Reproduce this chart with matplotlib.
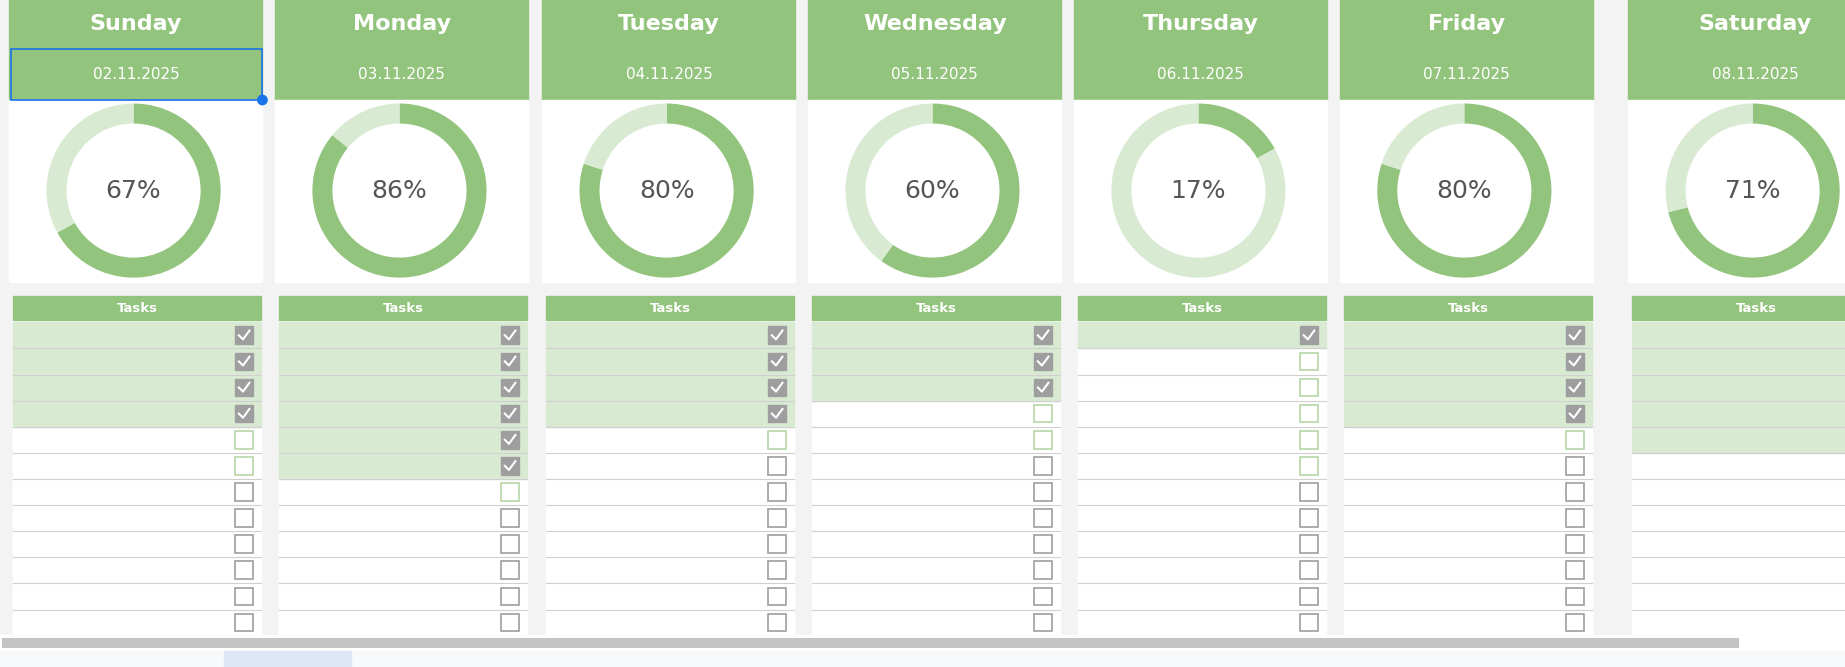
import matplotlib
matplotlib.use("Agg")
import matplotlib.pyplot as plt
from matplotlib.patches import Rectangle, Circle
from matplotlib.transforms import Bbox, TransformedBbox

days = ["Sunday", "Monday", "Tuesday", "Wednesday", "Thursday", "Friday", "Saturday"]
dates = ["02.11.2025", "03.11.2025", "04.11.2025", "05.11.2025", "06.11.2025", "07.11.2025", "08.11.2025"]
col_x = [8, 234, 461, 687, 913, 1139, 1384]
tasks = [
    ["Create a development plan", "Reels script", "Analyze the marketing report",
     "Finish the project due Oct 31", "Set up website traffic", "Pay the targeting specialist"],
    ["Organize personal finances", "Write 10 content ideas", "Prepare the commercial proposal",
     "Review subscriptions", "Organize the workspace", "Call Oleg", "Renew gym membership"],
    ["Hire a personal trainer", "Buy groceries for the week", "Deep clean the apartment",
     "Doctor's appointment", "Buy vitamins"],
    ["Film content for the new project", "Water the plants", "Meet up with friends",
     "Redesign the website", "Grocery shopping"],
    ["Check email", "Reply to urgent matters", "Review financial report", "Team meeting",
     "Reconcile expenses and payments", "Check sales metrics"],
    ["Post about the company on social media", "Update the team's task list",
     "Order cleaning services", "Review tax declarations", "Check mentions"],
    ["Make edits to the commercial proposal", "Approve the candidate with HR", "Study market news",
     "Research competitors", "Pay the bills", "Approve the design",
     "Send the technical requirements"],
]
done = [
    [1, 1, 1, 1, 0, 0],
    [1, 1, 1, 1, 1, 1, 0],
    [1, 1, 1, 1, 0],
    [1, 1, 1, 0, 0],
    [1, 0, 0, 0, 0, 0],
    [1, 1, 1, 1, 0],
    [1, 1, 1, 1, 1, 0, 0],
]

W, H = 1568, 567
GREEN = "#93c47d"
LIGHT = "#d9ead3"
BG = "#f3f3f3"
N_ROWS = 12

fig = plt.figure(figsize=(18.45, 6.67), dpi=100)
ax = fig.add_axes([0, 0, 1, 1])
ax.set_xlim(0, W)
ax.set_ylim(H, 0)
ax.axis("off")
ax.add_patch(Rectangle((0, 0), W, H, color=BG, zorder=0))

def strike(s):
    return "".join(c + "\u0336" for c in s)

for i, day in enumerate(days):
    x0 = col_x[i]
    cw = 215
    # header
    ax.add_patch(Rectangle((x0, 0), cw, 85, color=GREEN, zorder=1))
    ax.text(x0 + cw / 2, 20, day, color="white", fontsize=16, weight="bold",
            ha="center", va="center")
    ax.text(x0 + cw / 2, 63, dates[i], color="white", fontsize=11,
            ha="center", va="center")
    ax.add_patch(Rectangle((x0, 85), cw, 155, color="white", zorder=1))
    # donut
    pct = round(100 * sum(done[i]) / len(done[i]))
    cx, cy = x0 + cw / 2 - 2, 162
    r = 74
    dax = fig.add_axes([(cx - r) / W, 1 - (cy + r) / H, 2 * r / W, 2 * r / H])
    dax.pie([pct, 100 - pct], colors=[GREEN, LIGHT], startangle=90, counterclock=False,
            wedgeprops=dict(width=0.23))
    dax.set_xlim(-1, 1)
    dax.set_ylim(-1, 1)
    dax.set_aspect("auto")
    dax.text(0, 0, f"{pct}%", fontsize=18, color="#555555", ha="center", va="center")
    # tasks table
    tx = x0 + 3
    tw = 211
    ax.add_patch(Rectangle((tx, 252), tw, 290, color="white", zorder=1))
    ax.add_patch(Rectangle((tx, 252), tw, 20, color=GREEN, zorder=2))
    ax.text(tx + tw / 2, 262, "Tasks", color="white", fontsize=9.5, weight="bold",
            ha="center", va="center", zorder=3)
    for j in range(N_ROWS):
        y = 274 + j * 22.2
        has = j < len(tasks[i])
        is_done = has and done[i][j]
        if is_done:
            ax.add_patch(Rectangle((tx, y), tw, 22.2, color=LIGHT, zorder=2))
        ax.plot([tx, tx + tw], [y + 22.2, y + 22.2], color="#d0d0d0", lw=0.8, zorder=3)
        bx = x0 + 192
        if is_done:
            ax.add_patch(Rectangle((bx, y + 3.5), 15, 15, facecolor="#9e9e9e",
                                   edgecolor="#9e9e9e", zorder=4))
            ax.plot([bx + 3, bx + 6.5, bx + 12], [y + 11, y + 14.5, y + 7],
                    color="white", lw=1.5, zorder=5)
        else:
            ax.add_patch(Rectangle((bx, y + 3.5), 15, 15, facecolor="white",
                                   edgecolor="#b6d7a8" if has else "#9e9e9e", lw=1.2, zorder=4))
        if has:
            s = tasks[i][j]
            t = ax.text(tx + 5, y + 11.5, strike(s) if is_done else s,
                        color="#8a8a8a" if is_done else "#222222", fontsize=9.5,
                        va="center", ha="left", zorder=3)
            right = min(tx + 186, W - 1)
            t.set_clip_box(TransformedBbox(Bbox([[tx, y + 22.2], [right, y]]), ax.transData))
            t.set_clip_on(True)

# selection box
ax.add_patch(Rectangle((9, 42), 214, 43, fill=False, edgecolor="#1a73e8", lw=1.2, zorder=6))
ax.add_patch(Circle((223, 85), 4, color="#1a73e8", zorder=7))

# scrollbar and bottom strip
ax.add_patch(Rectangle((0, 540), W, 13, color="white", zorder=5))
ax.add_patch(Rectangle((2, 542), 1476, 9, color="#c4c4c4", zorder=6, lw=0))
ax.add_patch(Rectangle((0, 553), W, 14, color="#f8f9fa", zorder=5))
ax.add_patch(Rectangle((190, 553), 108, 14, color="#dce6f5", zorder=6))

fig.savefig("out.png", dpi=100)
